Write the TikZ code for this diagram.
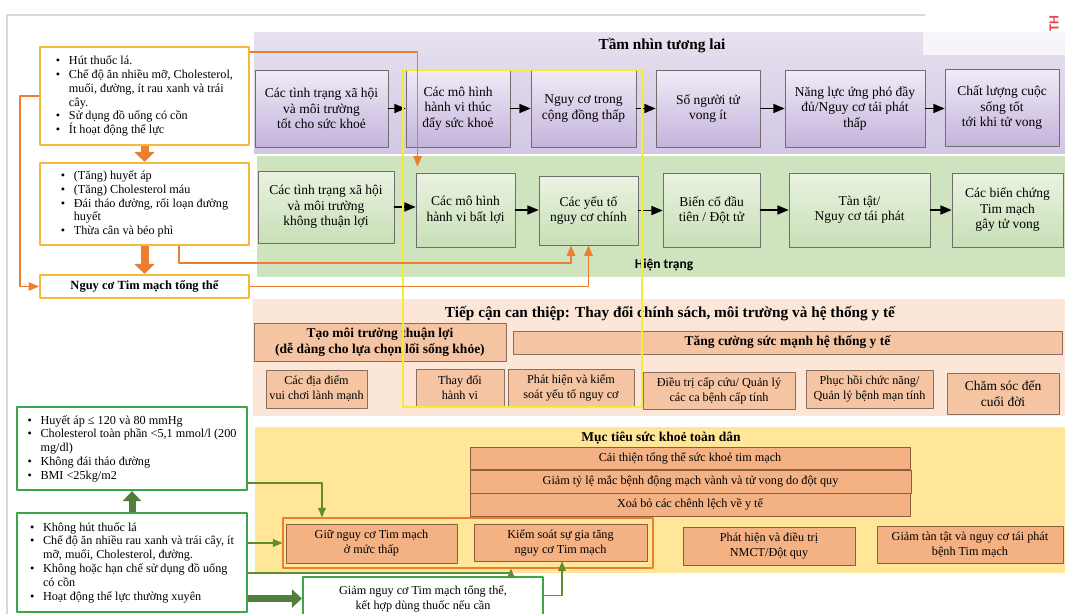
\documentclass[tikz,border=0pt]{standalone}
\usepackage{fontspec}
\setmainfont{Liberation Serif}
\newfontfamily\labelfont{Carlito}
\usetikzlibrary{arrows,arrows.meta,positioning}
\definecolor{bandtop}{HTML}{E6E0EF}
\definecolor{bandbot}{HTML}{D3C8E4}
\definecolor{vtop}{HTML}{F0EBF7}
\definecolor{vbot}{HTML}{C4B3DB}
\definecolor{bandgreen}{HTML}{CEE3BE}
\definecolor{htop}{HTML}{EAF3E2}
\definecolor{hbot}{HTML}{C8DFB6}
\definecolor{boxline}{HTML}{6E6E6E}
\definecolor{bandpeach}{HTML}{FBE6D8}
\definecolor{pfill}{HTML}{F5C4A2}
\definecolor{pline}{HTML}{8C6E5E}
\definecolor{bandyellow}{HTML}{FFE699}
\definecolor{yfill}{HTML}{F4B183}
\definecolor{yline}{HTML}{8B5E3C}
\definecolor{orline}{HTML}{ED7D31}
\definecolor{oborder}{HTML}{F6B93B}
\definecolor{gborder}{HTML}{3DA64A}
\definecolor{grline}{HTML}{5E8E2E}
\definecolor{gbarrow}{HTML}{4F7F3A}
\definecolor{hilite}{HTML}{F3EE35}
\definecolor{framegrey}{HTML}{D9D9D9}
\definecolor{thred}{HTML}{E8434B}
\newcommand{\boxfont}{\fontsize{13.5}{15.5}\selectfont}
\newcommand{\smallfont}{\fontsize{12.2}{15}\selectfont}
\newcommand{\listfont}{\fontsize{12.2}{13.8}\selectfont}
\newcommand{\titlefont}{\fontsize{15.3}{17}\selectfont\bfseries}
\newcommand{\bul}{\makebox[13pt][l]{\textbullet}}
\newcommand{\nob}{\hspace*{13pt}}

\begin{document}
\begin{tikzpicture}[x=1pt,y=-1pt,line cap=round,line join=round,>=triangle 45,
  vbox/.style={draw=boxline,line width=0.9pt,top color=vtop,bottom color=vbot,align=center,font=\boxfont,inner sep=1pt,minimum height=77},
  hbox/.style={draw=boxline,line width=0.9pt,top color=htop,bottom color=hbot,align=center,font=\boxfont,inner sep=1pt},
  pbox/.style={draw=pline,line width=0.9pt,fill=pfill,align=center,font=\smallfont,inner sep=1pt},
  ybox/.style={draw=yline,line width=0.9pt,fill=yfill,align=center,font=\smallfont,inner sep=1pt},
  obox/.style={draw=oborder,line width=2.2pt,fill=white,align=left,font=\listfont,inner sep=1pt,minimum width=209},
  gbox/.style={draw=gborder,line width=2.2pt,fill=white,align=left,font=\listfont,inner sep=1pt,minimum width=230},
  flow/.style={->,line width=1.6pt},
  oline/.style={->,draw=orline,line width=1.4pt},
  gline/.style={->,draw=grline,line width=1.2pt},
  oblock/.style={-{Triangle[length=10pt,width=20pt]},draw=orline,line width=8pt,line cap=butt},
  gblock/.style={-{Triangle[length=10pt,width=18pt]},draw=gbarrow,line width=7pt,line cap=butt}]
\useasboundingbox (0,0) rectangle (1065,613);
\clip (0,0) rectangle (1065,613);
\fill[white] (0,0) rectangle (1065,613);
% bands
\shade[top color=bandtop,bottom color=bandbot] (254,32) rectangle (1065,153);
\fill[white,opacity=0.7] (923,32) rectangle (1065,55);
\fill[bandgreen] (257,156) rectangle (1065,277);
\fill[bandpeach] (253,299) rectangle (1065,416);
\fill[bandyellow] (255,427) rectangle (1065,573);
\draw[framegrey,line width=1.2pt] (7,620) -- (7,15) -- (925,15);
\node[text=thred,rotate=90,inner sep=1pt,font=\labelfont\bfseries\fontsize{14}{14}\selectfont] (th) at (1054,24) {TH};

% tam nhin tuong lai
\node[font=\titlefont] (vtitle) at (662,46) {Tầm nhìn tương lai};
\node[vbox,minimum width=133] (v1) at (321.5,108.5) {Các tình trạng xã hội\\và môi trường\\tốt cho sức khoẻ};
\node[vbox,minimum width=104] (v2) at (458,108.5) {Các mô hình\\hành vi thúc\\đẩy sức khoẻ};
\node[vbox,minimum width=105] (v3) at (583.5,108.5) {Nguy cơ trong\\cộng đồng thấp};
\node[vbox,minimum width=104] (v4) at (708,108.5) {Số người tử\\vong ít};
\node[vbox,minimum width=140] (v5) at (855,108.5) {Năng lực ứng phó đầy\\đủ/Nguy cơ tái phát\\thấp};
\node[vbox,minimum width=114] (v6) at (1002,108) {Chất lượng cuộc\\sống tốt\\tới khi tử vong};
\foreach \a/\b in {v1/v2,v2/v3,v3/v4,v4/v5,v5/v6}
  \draw[flow] (\a.east) -- (\a.east -| \b.west);

% hien trang
\node[hbox,minimum width=136,minimum height=72] (g1) at (326,207) {Các tình trạng xã hội\\và môi trường\\không thuận lợi};
\node[hbox,minimum width=99,minimum height=74] (g2) at (465.5,210) {Các mô hình\\hành vi bất lợi};
\node[hbox,minimum width=99,minimum height=69] (g3) at (588.5,210.5) {Các yếu tố\\nguy cơ chính};
\node[hbox,minimum width=97,minimum height=74] (g4) at (711.5,210) {Biến cố đầu\\tiên / Đột tử};
\node[hbox,minimum width=141,minimum height=74] (g5) at (859.5,210) {Tàn tật/\\Nguy cơ tái phát};
\node[hbox,minimum width=111,minimum height=74] (g6) at (1007.5,210) {Các biến chứng\\Tim mạch\\gây tử vong};
\node[font=\labelfont\bfseries\fontsize{13.5}{15}\selectfont] (htitle) at (664,265) {Hiện trạng};
\draw[flow] (g1.east) -- (g1.east -| g2.west);
\foreach \a/\b in {g2/g3,g3/g4,g4/g5,g5/g6}
  \draw[flow] (\a.east) -- (\a.east -| \b.west);

% tiep can can thiep
\node[font=\titlefont] (ptitle) at (670,314) {Tiếp cận can thiệp: Thay đổi chính sách, môi trường và hệ thống y tế};
\node[pbox,font=\boxfont\bfseries,minimum width=252,minimum height=38] (t1) at (380,342) {Tạo môi trường thuận lợi\\(dễ dàng cho lựa chọn lối sống khỏe)};
\node[pbox,font=\boxfont\bfseries,minimum width=549,minimum height=23] (t2) at (787.5,342.5) {Tăng cường sức mạnh hệ thống y tế};
\node[pbox,minimum width=101,minimum height=38] (s1) at (316.5,389) {Các địa điểm\\vui chơi lành mạnh};
\node[pbox,minimum width=88,minimum height=37] (s2) at (460,387.5) {Thay đổi\\hành vi};
\node[pbox,minimum width=126,minimum height=37] (s3) at (571,387.5) {Phát hiện và kiểm\\soát yếu tố nguy cơ};
\node[pbox,minimum width=152,minimum height=37] (s4) at (719,390.5) {Điều trị cấp cứu/ Quản lý\\các ca bệnh cấp tính};
\node[pbox,minimum width=127,minimum height=38] (s5) at (869.5,389) {Phục hồi chức năng/\\Quản lý bệnh mạn tính};
\node[pbox,font=\boxfont,minimum width=112,minimum height=41] (s6) at (1003,393.5) {Chăm sóc đến\\cuối đời};

% muc tieu
\node[font=\fontsize{13.5}{15}\selectfont\bfseries] (ytitle) at (661,438) {Mục tiêu sức khoẻ toàn dân};
\node[ybox,minimum width=440,minimum height=22] (m1) at (690,458) {Cải thiện tổng thể sức khoẻ tim mạch};
\node[ybox,minimum width=441,minimum height=23] (m2) at (690.5,481.5) {Giảm tỷ lệ mắc bệnh động mạch vành và tử vong do đột quy};
\node[ybox,minimum width=440,minimum height=23] (m3) at (690,504.5) {Xoá bỏ các chênh lệch về y tế};
\node[draw=orline,line width=1.3pt,minimum width=370,minimum height=50] (grp) at (468,543) {};
\node[ybox,minimum width=171,minimum height=39] (k1) at (371.5,543.5) {Giữ nguy cơ Tim mạch\\ở mức thấp};
\node[ybox,minimum width=173,minimum height=37] (k2) at (560.5,542.5) {Kiểm soát sự gia tăng\\nguy cơ Tim mạch};
\node[ybox,minimum width=172,minimum height=38] (k3) at (769,546) {Phát hiện và điều trị\\NMCT/Đột quy};
\node[ybox,minimum width=186,minimum height=37] (k4) at (970,544.5) {Giảm tàn tật và nguy cơ tái phát\\bệnh Tim mạch};
\node[draw=gborder,line width=2.2pt,fill=white,align=center,font=\smallfont,minimum width=240,minimum height=43,inner sep=1pt] (w1) at (423,598.5) {Giảm nguy cơ Tim mạch tổng thể,\\kết hợp dùng thuốc nếu cần};

% highlight
\draw[hilite,line width=1.3pt] (403,70) rectangle (642,407);

% left column, orange
\node[obox,minimum height=98] (o1) at (144.5,96) {\bul Hút thuốc lá.\\\bul Chế độ ăn nhiều mỡ, Cholesterol,\\\nob muối, đường, ít rau xanh và trái\\\nob cây.\\\bul Sử dụng đồ uống có cồn\\\bul Ít hoạt động thể lực};
\node[obox,minimum height=82] (o2) at (144.5,204) {\bul (Tăng) huyết áp\\\bul (Tăng) Cholesterol máu\\\bul Đái tháo đường, rối loạn đường\\\nob huyết\\\bul Thừa cân và béo phì};
\node[obox,align=center,font=\fontsize{12.5}{14}\selectfont\bfseries,minimum height=23] (o3) at (144.5,286.5) {Nguy cơ Tim mạch tổng thể};
\draw[oblock] (o1.south) -- (o2.north);
\draw[oblock] (o2.south) -- (o3.north);
\draw[oline] (o1.west) -- ++(-19,0) |- (o3.west);
\draw[oline] ([yshift=-6pt]o1.north east) -| ([xshift=2pt,yshift=6pt]g2.north west);
\draw[oline] ([xshift=34.5pt]o2.south) -- ++(0,17) -| ([xshift=-17.5pt]g3.south);
\draw[oline] (o3.east) -| (g3.south);

% left column, green
\node[gbox,minimum height=83] (gA) at (132,448.5) {\bul Huyết áp ≤ 120 và 80 mmHg\\\bul Cholesterol toàn phần <5,1 mmol/l (200\\\nob mg/dl)\\\bul Không đái tháo đường\\\bul BMI <25kg/m2};
\node[gbox,minimum height=99] (gB) at (132,562.5) {\bul Không hút thuốc lá\\\bul Chế độ ăn nhiều rau xanh và trái cây, ít\\\nob mỡ, muối, Cholesterol, đường.\\\bul Không hoặc hạn chế sử dụng đồ uống\\\nob có cồn\\\bul Hoạt động thể lực thường xuyên};
\draw[gblock] (gB.north) -- (gA.south);
\draw[gline] ([yshift=-34.5pt]gA.east) -| ([xshift=-146pt]grp.north);
\draw[gline] ([yshift=19.5pt]gB.east) -- (grp.west);
\draw[gline] ([yshift=-10.5pt]gB.east) -| ([xshift=43pt]grp.south);
\draw[gblock] ([yshift=-36pt]gB.east) -- (w1.west);
\draw[gline] ([yshift=3pt]w1.east) -| ([xshift=1.5pt]k2.south);
\end{tikzpicture}
\end{document}
